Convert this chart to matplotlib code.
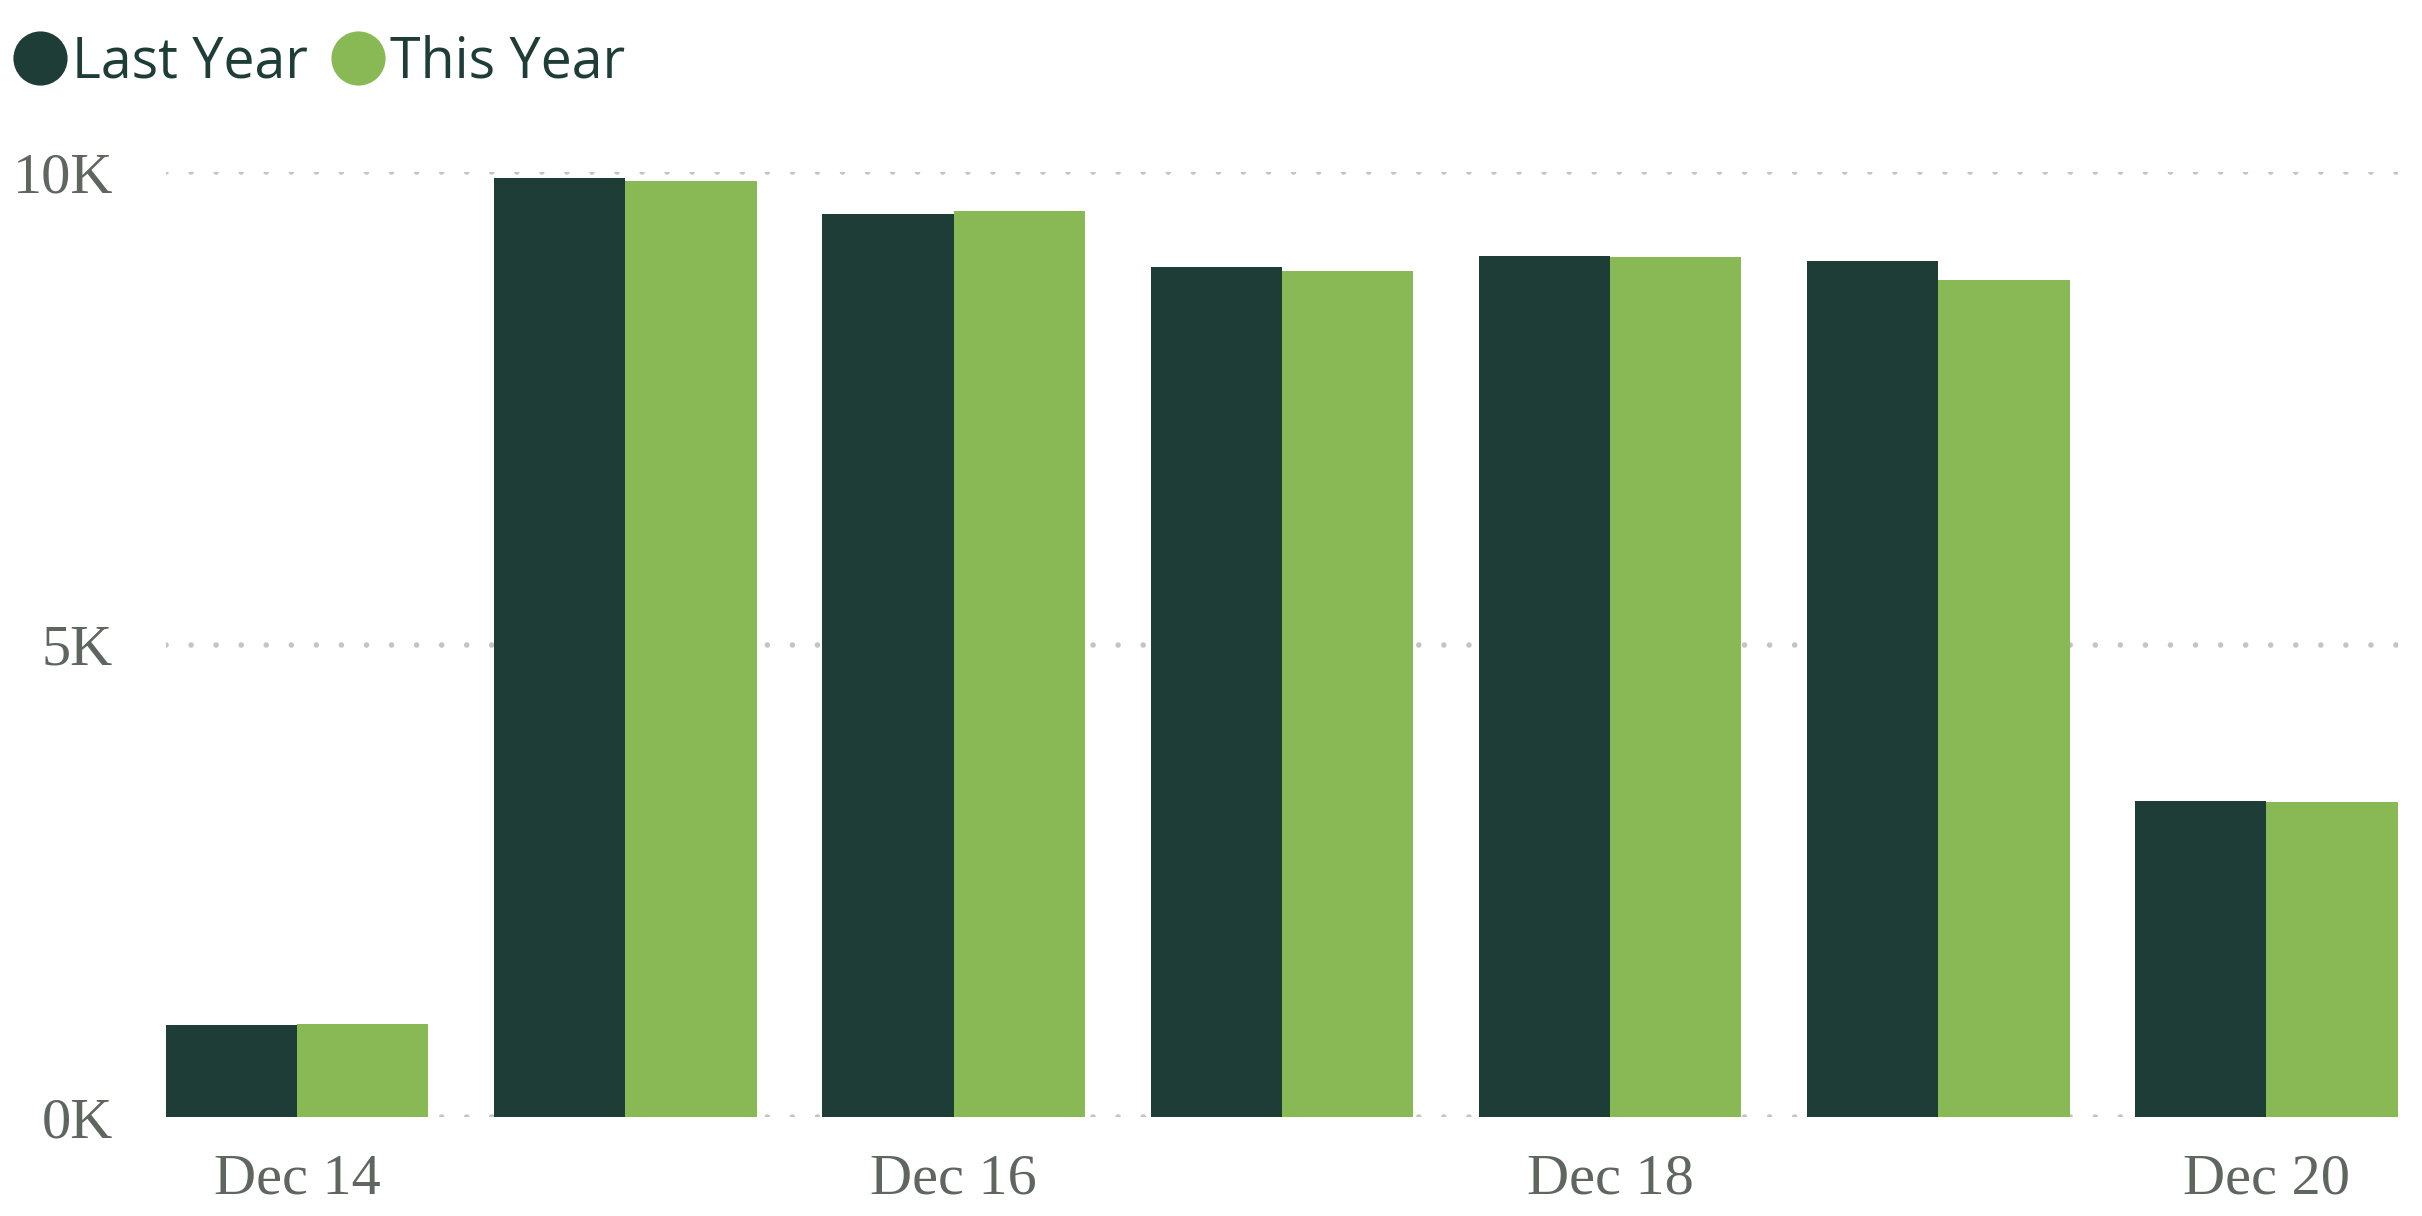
import numpy as np
import matplotlib
matplotlib.use("Agg")
import matplotlib.pyplot as plt
from matplotlib.lines import Line2D

days = ["Dec 14", "Dec 15", "Dec 16", "Dec 17", "Dec 18", "Dec 19", "Dec 20"]
last_year = [970, 9935, 9560, 9000, 9115, 9065, 3345]
this_year = [985, 9905, 9590, 8955, 9100, 8855, 3330]
tick_labels = ["0K", "5K", "10K"]
tick_values = [0, 5000, 10000]

dark = "#1e3d37"
green = "#88b955"
label_grey = "#5f6660"

fig = plt.figure(figsize=(12.11, 6.08), dpi=200)
ax = fig.add_axes([0.0685, 0.0814, 0.9215, 0.777])

x = np.arange(len(days))
w = 0.4
ax.bar(x - w / 2, last_year, width=w, color=dark, zorder=2)
ax.bar(x + w / 2, this_year, width=w, color=green, zorder=2)

# dotted grid lines
for v in tick_values:
    ax.axhline(v, color="#c4c4c4", linewidth=2.0, linestyle=(0, (0.01, 4.5)),
               dash_capstyle="round", zorder=1)

ax.set_xlim(-0.4, len(days) - 0.6)
ax.set_ylim(0, 10000)

ax.set_yticks(tick_values)
ax.set_yticklabels(tick_labels)
ax.set_xticks(x[::2])
ax.set_xticklabels(days[::2])

for lab in ax.get_yticklabels() + ax.get_xticklabels():
    lab.set_fontfamily("Liberation Serif")
    lab.set_fontsize(21)
    lab.set_color(label_grey)

ax.tick_params(axis="y", length=0, pad=19)
ax.tick_params(axis="x", length=0, pad=13)

for s in ax.spines.values():
    s.set_visible(False)

handles = [
    Line2D([], [], marker="o", linestyle="none", markersize=18.5,
           markerfacecolor=dark, markeredgecolor=dark),
    Line2D([], [], marker="o", linestyle="none", markersize=18.5,
           markerfacecolor=green, markeredgecolor=green),
]
fig.legend(handles, ["Last Year", "This Year"], loc="center left",
           bbox_to_anchor=(-0.0065, 0.9485), ncol=2, frameon=False,
           borderpad=0, handlelength=1.0, handletextpad=0.08,
           columnspacing=0.4,
           prop={"family": "Open Sans", "size": 20},
           labelcolor=dark)

fig.savefig("out.png", dpi=200)
